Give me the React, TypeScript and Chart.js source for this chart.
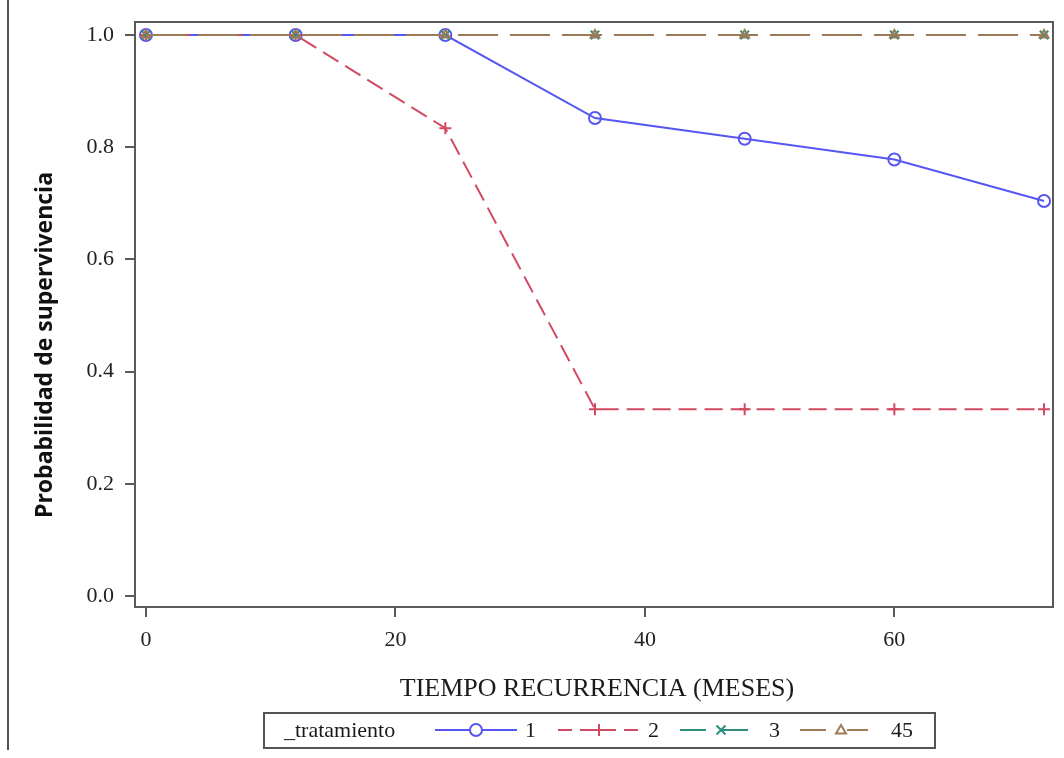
import React, { useEffect, useRef } from 'react';
import { Chart, registerables } from 'chart.js';
Chart.register(...registerables);

const months = [0, 12, 24, 36, 48, 60, 72];
const trat1 = [1, 1, 1, 0.852, 0.815, 0.778, 0.704];
const trat2 = [1, 1, 0.834, 0.333, 0.333, 0.333, 0.333];
const trat3 = [1, 1, 1, 1, 1, 1, 1];
const trat45 = [1, 1, 1, 1, 1, 1, 1];
const seriesNames = ['1', '2', '3', '45'];
const xTicks = [0, 20, 40, 60];
const yTicks = [0, 0.2, 0.4, 0.6, 0.8, 1.0];
const xTitle = 'TIEMPO RECURRENCIA (MESES)';
const yTitle = 'Probabilidad de supervivencia';
const legendTitle = '_tratamiento';

const W = 1064;
const H = 758;
const COLORS = ['#5656f2', '#d24a62', '#2f8f7f', '#9c7b56'];
const DASHES: number[][] = [[], [18, 8], [40, 12], [40, 12]];
const STYLES = ['circle', 'cross', 'crossRot', 'triangle'];
const SERIF = '"Liberation Serif", "Times New Roman", serif';
const AXIS = '#5a5a5a';

function pts(vals: number[]) {
  return months.map((m, i) => ({ x: m, y: vals[i] }));
}

function drawMarker(ctx: CanvasRenderingContext2D, style: string, x: number, y: number, r: number) {
  ctx.beginPath();
  if (style === 'circle') {
    ctx.arc(x, y, r, 0, Math.PI * 2);
  } else if (style === 'cross') {
    ctx.moveTo(x - r, y); ctx.lineTo(x + r, y);
    ctx.moveTo(x, y - r); ctx.lineTo(x, y + r);
  } else if (style === 'crossRot') {
    const d = r * 0.75;
    ctx.moveTo(x - d, y - d); ctx.lineTo(x + d, y + d);
    ctx.moveTo(x + d, y - d); ctx.lineTo(x - d, y + d);
  } else {
    ctx.moveTo(x, y - r); ctx.lineTo(x + r, y + r * 0.7); ctx.lineTo(x - r, y + r * 0.7); ctx.closePath();
  }
  ctx.stroke();
}

const decor = {
  id: 'decor',
  afterDraw(chart: any) {
    const ctx: CanvasRenderingContext2D = chart.ctx;
    const { left, top, right, bottom } = chart.chartArea;
    ctx.save();
    // page line
    ctx.fillStyle = '#555';
    ctx.fillRect(7, 0, 2, 750);
    // frame
    ctx.strokeStyle = AXIS;
    ctx.lineWidth = 2;
    ctx.strokeRect(left, top, right - left, bottom - top);
    // x title
    ctx.fillStyle = '#1a1a1a';
    ctx.font = `26px ${SERIF}`;
    ctx.textAlign = 'center';
    ctx.textBaseline = 'middle';
    ctx.fillText(xTitle, 597, 689);
    // y title
    ctx.save();
    ctx.translate(45, 345);
    ctx.rotate(-Math.PI / 2);
    ctx.font = 'bold 23px "Open Sans", "Liberation Sans", sans-serif';
    ctx.fillStyle = '#111';
    ctx.fillText(yTitle, 0, 0);
    ctx.restore();
    // legend
    ctx.strokeStyle = '#555';
    ctx.lineWidth = 2;
    ctx.strokeRect(264, 713, 671, 35);
    ctx.font = `22px ${SERIF}`;
    ctx.fillStyle = '#1a1a1a';
    ctx.textAlign = 'left';
    ctx.fillText(legendTitle, 284, 731);
    const sampleX = [435, 558, 680, 800];
    const labelX = [525, 648, 769, 891];
    const ly = 730;
    for (let i = 0; i < 4; i++) {
      ctx.strokeStyle = COLORS[i];
      ctx.lineWidth = 2;
      ctx.setLineDash(DASHES[i].length ? (i === 1 ? [14, 8] : [26, 16]) : []);
      ctx.beginPath();
      ctx.moveTo(sampleX[i], ly);
      ctx.lineTo(sampleX[i] + 82, ly);
      ctx.stroke();
      ctx.setLineDash([]);
      const mx = sampleX[i] + 41;
      ctx.fillStyle = '#fff';
      if (i === 0 || i === 3) {
        ctx.fillRect(mx - 6, ly - 6, 12, 12);
      }
      drawMarker(ctx, STYLES[i], mx, ly, i === 3 ? 5 : 6);
      ctx.fillStyle = '#1a1a1a';
      ctx.fillText(seriesNames[i], labelX[i], ly + 1);
    }
    ctx.restore();
  },
};

export default function App() {
  const ref = useRef<HTMLCanvasElement>(null);
  useEffect(() => {
    const all = [trat1, trat2, trat3, trat45];
    const chart = new Chart(ref.current!, {
      type: 'line',
      data: {
        datasets: all.map((vals, i) => ({
          label: seriesNames[i],
          data: pts(vals),
          order: 3 - i,
          borderColor: COLORS[i],
          borderWidth: 2,
          borderDash: DASHES[i],
          pointStyle: STYLES[i] as any,
          pointRadius: i === 3 ? 5 : 6,
          pointBorderColor: COLORS[i],
          pointBackgroundColor: 'rgba(0,0,0,0)',
          pointBorderWidth: 2,
          tension: 0,
          fill: false,
        })),
      },
      options: {
        responsive: false,
        animation: false,
        devicePixelRatio: 1,
        layout: { padding: { left: 0, top: 22, right: 11, bottom: 0 } },
        plugins: { legend: { display: false }, tooltip: { enabled: false } },
        scales: {
          x: {
            type: 'linear',
            min: -0.88,
            max: 72.72,
            afterBuildTicks: (s: any) => { s.ticks = xTicks.map((v) => ({ value: v })); },
            afterFit: (s: any) => { s.height = 151; s.paddingLeft = 0; s.paddingRight = 0; },
            border: { display: true, color: AXIS, width: 2 },
            grid: { drawOnChartArea: false, drawTicks: true, tickLength: 10, color: AXIS, lineWidth: 2 },
            ticks: {
              font: { family: SERIF, size: 22 },
              color: '#222',
              padding: 10,
              maxRotation: 0,
              callback: (v: any) => String(v),
            },
          },
          y: {
            type: 'linear',
            min: -0.0196,
            max: 1.0232,
            afterBuildTicks: (s: any) => { s.ticks = yTicks.map((v) => ({ value: v })); },
            afterFit: (s: any) => { s.width = 135; s.paddingTop = 0; s.paddingBottom = 0; },
            border: { display: true, color: AXIS, width: 2 },
            grid: { drawOnChartArea: false, drawTicks: true, tickLength: 10, color: AXIS, lineWidth: 2 },
            ticks: {
              font: { family: SERIF, size: 22 },
              color: '#222',
              padding: 11,
              callback: (v: any) => Number(v).toFixed(1),
            },
          },
        },
      },
      plugins: [decor],
    });
    return () => chart.destroy();
  }, []);
  return (
    <div style={{ position: 'fixed', left: 0, top: 0, width: W, height: H, background: '#fff' }}>
      <canvas ref={ref} width={W} height={H} style={{ display: 'block', width: W, height: H }} />
    </div>
  );
}
